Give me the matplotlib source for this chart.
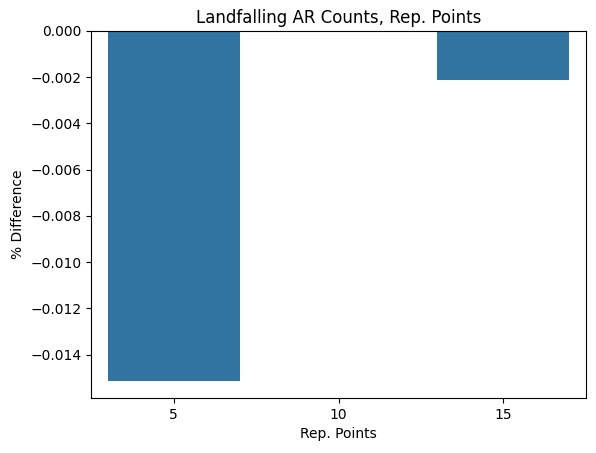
import numpy as np
import pandas as pd
import seaborn as sns
import matplotlib
matplotlib.use('Agg')
import matplotlib.pyplot as plt

# values
rep_points = [5, 10, 15]
pct_diff = [-0.01512, 0.0, -0.00213]

df = pd.DataFrame({'Rep. Points': rep_points, '% Difference': pct_diff})

fig = plt.figure(figsize=(5.96, 4.53), dpi=100)
ax = fig.add_axes([0.153, 0.1214, 0.830, 0.8102])
sns.barplot(data=df, x='Rep. Points', y='% Difference', ax=ax)
ax.set_title('Landfalling AR Counts, Rep. Points')
ax.set_xlabel('Rep. Points')
ax.set_ylabel('% Difference')

fig.savefig('out.png', dpi=100)
